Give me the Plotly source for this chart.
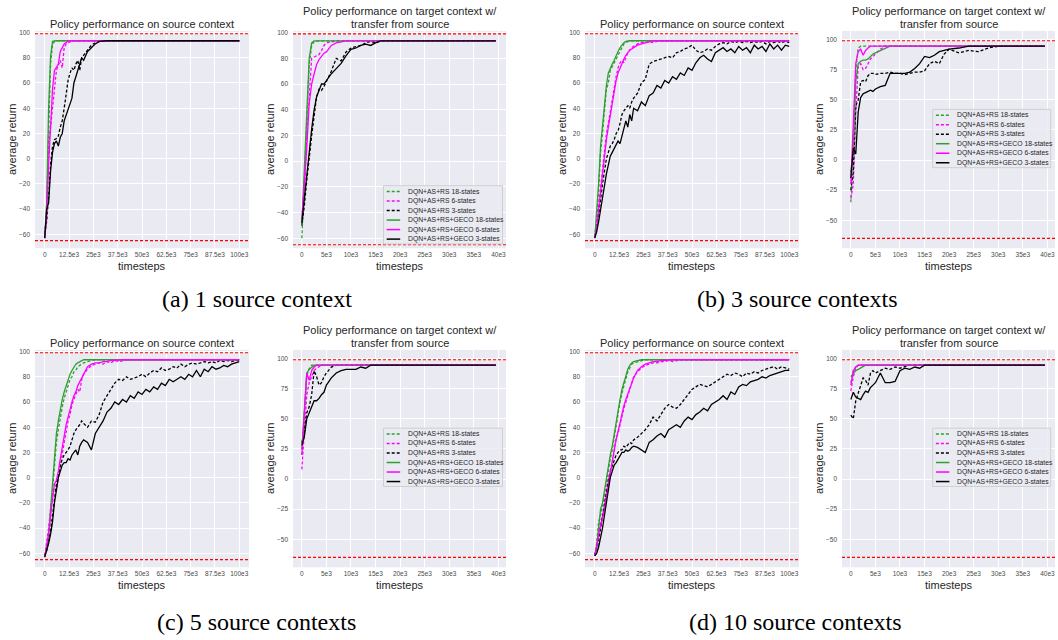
import plotly.graph_objects as go

W, H = 1058, 640
SANS = "Liberation Sans"
SERIF = "Liberation Serif"

# ---------------- data ----------------
SRC_X = [0, 1000, 2000, 3000, 4000, 5000, 6000, 7000, 8000, 9000,
         10000, 11000, 12000, 13000, 14000, 15000, 16000, 17000, 18000, 19000,
         20000, 22000, 24000, 26000, 28000, 30000, 32000, 34000, 36000, 38000,
         40000, 42000, 44000, 46000, 48000, 50000, 52000, 54000, 56000, 58000,
         60000, 62000, 64000, 66000, 68000, 70000, 72000, 74000, 76000, 78000,
         80000, 82000, 84000, 86000, 88000, 90000, 92000, 94000, 96000, 98000,
         100000]
TGT_X = [0, 500, 1000, 1500, 2000, 2500, 3000, 3500, 4000, 4500,
         5000, 6000, 7000, 8000, 9000, 10000, 11000, 12000, 13000, 14000,
         15000, 16000, 17000, 18000, 19000, 20000, 22000, 24000, 26000, 28000,
         30000, 32000, 34000, 36000, 38000, 39500]

SERIES_NAMES = ["DQN+AS+RS 18-states", "DQN+AS+RS 6-states", "DQN+AS+RS 3-states",
                "DQN+AS+RS+GECO 18-states", "DQN+AS+RS+GECO 6-states", "DQN+AS+RS+GECO 3-states"]

SRC_XTICKS = [0, 12500, 25000, 37500, 50000, 62500, 75000, 87500, 100000]
SRC_XTICKTEXT = ["0", "12.5e3", "25e3", "37.5e3", "50e3", "62.5e3", "75e3", "87.5e3", "100e3"]
TGT_XTICKS = [0, 5000, 10000, 15000, 20000, 25000, 30000, 35000, 40000]
TGT_XTICKTEXT = ["0", "5e3", "10e3", "15e3", "20e3", "25e3", "30e3", "35e3", "40e3"]
Y_TICKS_20 = [-60, -40, -20, 0, 20, 40, 60, 80, 100]
Y_TICKS_25 = [-50, -25, 0, 25, 50, 75, 100]

REF_HIGH = 99
REF_LOW = -65

SRC_TITLE = "Policy performance on source context"
TGT_TITLE = ["Policy performance on target context w/", "transfer from source"]
Y_LABEL = "average return"
X_LABEL = "timesteps"
CAPTIONS = ["(a) 1 source context", "(b) 3 source contexts",
            "(c) 5 source contexts", "(d) 10 source contexts"]

# ----- (a) 1 source context : source -----
A_SRC_RS18 = [-63, -40, 20, 75, 90, 93, 93.5, 93.5, 93.5, 93.5,
              93.5, 93.5, 93.5, 93.5, 93.5, 93.5, 93.5, 93.5, 93.5, 93.5,
              93.5, 93.5, 93.5, 93.5, 93.5, 93.5, 93.5, 93.5, 93.5, 93.5,
              93.5, 93.5, 93.5, 93.5, 93.5, 93.5, 93.5, 93.5, 93.5, 93.5,
              93.5, 93.5, 93.5, 93.5, 93.5, 93.5, 93.5, 93.5, 93.5, 93.5,
              93.5, 93.5, 93.5, 93.5, 93.5, 93.5, 93.5, 93.5, 93.5, 93.5,
              93.5]
A_SRC_RS6 = [-60, -40, 10, 25, 45, 57, 70, 74, 78, 72,
             88, 91, 92, 93, 93.5, 93.5, 93.5, 93.5, 93.5, 93.5,
             93.5, 93.5, 93.5, 93.5, 93.5, 93.5, 93.5, 93.5, 93.5, 93.5,
             93.5, 93.5, 93.5, 93.5, 93.5, 93.5, 93.5, 93.5, 93.5, 93.5,
             93.5, 93.5, 93.5, 93.5, 93.5, 93.5, 93.5, 93.5, 93.5, 93.5,
             93.5, 93.5, 93.5, 93.5, 93.5, 93.5, 93.5, 93.5, 93.5, 93.5,
             93.5]
A_SRC_RS3 = [-60, -50, -30, -5, 10, 15, 16, 18, 25, 30,
             40, 50, 62, 68, 72, 70, 75, 78, 70, 80,
             82, 86, 90, 92, 93, 93.5, 93.5, 93.5, 93.5, 93.5,
             93.5, 93.5, 93.5, 93.5, 93.5, 93.5, 93.5, 93.5, 93.5, 93.5,
             93.5, 93.5, 93.5, 93.5, 93.5, 93.5, 93.5, 93.5, 93.5, 93.5,
             93.5, 93.5, 93.5, 93.5, 93.5, 93.5, 93.5, 93.5, 93.5, 93.5,
             93.5]
A_SRC_G18 = [-63, -35, 40, 81, 93, 93.5, 93.5, 93.5, 93.5, 93.5,
             93.5, 93.5, 93.5, 93.5, 93.5, 93.5, 93.5, 93.5, 93.5, 93.5,
             93.5, 93.5, 93.5, 93.5, 93.5, 93.5, 93.5, 93.5, 93.5, 93.5,
             93.5, 93.5, 93.5, 93.5, 93.5, 93.5, 93.5, 93.5, 93.5, 93.5,
             93.5, 93.5, 93.5, 93.5, 93.5, 93.5, 93.5, 93.5, 93.5, 93.5,
             93.5, 93.5, 93.5, 93.5, 93.5, 93.5, 93.5, 93.5, 93.5, 93.5,
             93.5]
A_SRC_G6 = [-63, -45, -5, 30, 55, 70, 73, 75, 85, 88,
            91, 92, 93.5, 93.5, 93.5, 93.5, 93.5, 93.5, 93.5, 93.5,
            93.5, 93.5, 93.5, 93.5, 93.5, 93.5, 93.5, 93.5, 93.5, 93.5,
            93.5, 93.5, 93.5, 93.5, 93.5, 93.5, 93.5, 93.5, 93.5, 93.5,
            93.5, 93.5, 93.5, 93.5, 93.5, 93.5, 93.5, 93.5, 93.5, 93.5,
            93.5, 93.5, 93.5, 93.5, 93.5, 93.5, 93.5, 93.5, 93.5, 93.5,
            93.5]
A_SRC_G3 = [-63, -40, -35, -10, 5, 12, 14, 10, 17, 20,
            30, 35, 40, 43, 48, 60, 65, 70, 75, 80,
            78, 85, 88, 91, 93, 93.5, 93.5, 93.5, 93.5, 93.5,
            93.5, 93.5, 93.5, 93.5, 93.5, 93.5, 93.5, 93.5, 93.5, 93.5,
            93.5, 93.5, 93.5, 93.5, 93.5, 93.5, 93.5, 93.5, 93.5, 93.5,
            93.5, 93.5, 93.5, 93.5, 93.5, 93.5, 93.5, 93.5, 93.5, 93.5,
            93.5]

# ----- (a) target -----
A_TGT_RS18 = [-60, -20, 30, 75, 90, 93, 93.5, 93.5, 93.5, 93.5,
              93.5, 93.5, 93.5, 93.5, 93.5, 93.5, 93.5, 93.5, 93.5, 93.5,
              93.5, 93.5, 93.5, 93.5, 93.5, 93.5, 93.5, 93.5, 93.5, 93.5,
              93.5, 93.5, 93.5, 93.5, 93.5, 93.5]
A_TGT_RS6 = [-50, -25, 20, 55, 80, 81, 82, 83, 86, 90,
             92, 93, 93.5, 93.5, 93.5, 93.5, 93.5, 93.5, 93.5, 93.5,
             93.5, 93.5, 93.5, 93.5, 93.5, 93.5, 93.5, 93.5, 93.5, 93.5,
             93.5, 93.5, 93.5, 93.5, 93.5, 93.5]
A_TGT_RS3 = [-50, -35, -15, 5, 20, 35, 50, 56, 55, 58,
             62, 70, 80, 78, 85, 88, 89, 90, 92, 93,
             92, 93.5, 93.5, 93.5, 93.5, 93.5, 93.5, 93.5, 93.5, 93.5,
             93.5, 93.5, 93.5, 93.5, 93.5, 93.5]
A_TGT_G18 = [-50, -10, 40, 80, 92, 93.5, 93.5, 93.5, 93.5, 93.5,
             93.5, 93.5, 93.5, 93.5, 93.5, 93.5, 93.5, 93.5, 93.5, 93.5,
             93.5, 93.5, 93.5, 93.5, 93.5, 93.5, 93.5, 93.5, 93.5, 93.5,
             93.5, 93.5, 93.5, 93.5, 93.5, 93.5]
A_TGT_G6 = [-45, -20, 10, 45, 60, 68, 75, 79, 82, 84,
            85, 90, 92, 93, 93.5, 93.5, 93.5, 93.5, 93.5, 93.5,
            93.5, 93.5, 93.5, 93.5, 93.5, 93.5, 93.5, 93.5, 93.5, 93.5,
            93.5, 93.5, 93.5, 93.5, 93.5, 93.5]
A_TGT_G3 = [-48, -30, -10, 10, 25, 40, 50, 55, 60, 60,
            63, 68, 72, 76, 82, 87, 88, 90, 91, 90,
            92, 93.5, 93.5, 93.5, 93.5, 93.5, 93.5, 93.5, 93.5, 93.5,
            93.5, 93.5, 93.5, 93.5, 93.5, 93.5]

# ----- (b) 3 source contexts : source -----
B_SRC_RS18 = [-62, -48, -25, 5, 20, 40, 55, 60, 70, 73,
              76, 80, 83, 86, 89, 91, 92, 93, 93.5, 93.5,
              93.5, 93.5, 93.5, 93.5, 93.5, 93.5, 93.5, 93.5, 93.5, 93.5,
              93.5, 93.5, 93.5, 93.5, 93.5, 93.5, 93.5, 93.5, 93.5, 93.5,
              93.5, 93.5, 93.5, 93.5, 93.5, 93.5, 93.5, 93.5, 93.5, 93.5,
              93.5, 93.5, 93.5, 93.5, 93.5, 93.5, 93.5, 93.5, 93.5, 93.5,
              93.5]
B_SRC_RS6 = [-62, -52, -38, -22, -8, 8, 20, 28, 38, 48,
             58, 65, 72, 76, 78, 76, 80, 84, 86, 88,
             89, 91, 92, 92, 93, 92, 93, 93.5, 93.5, 93.5,
             93.5, 93.5, 93.5, 93.5, 93.5, 93.5, 93.5, 93.5, 93.5, 93.5,
             93.5, 93.5, 93.5, 93.5, 93.5, 93.5, 93.5, 93.5, 93.5, 93.5,
             93.5, 93.5, 93.5, 93.5, 93.5, 93.5, 93.5, 93.5, 93.5, 93.5,
             93.5]
B_SRC_RS3 = [-62, -55, -45, -30, -20, -10, 0, 5, 10, 12,
             15, 20, 22, 28, 35, 38, 40, 42, 40, 45,
             48, 52, 60, 63, 75, 77, 78, 79, 80, 81,
             80, 84, 85, 87, 88, 90, 86, 84, 85, 87,
             86, 89, 91, 92, 91, 93, 92, 93, 92, 93,
             92, 93, 92, 93, 91, 93, 92, 93, 92, 93,
             92]
B_SRC_G18 = [-63, -45, -20, 10, 25, 45, 58, 68, 72, 75,
             78, 82, 85, 88, 90, 92, 93, 93.5, 93.5, 93.5,
             93.5, 93.5, 93.5, 93.5, 93.5, 93.5, 93.5, 93.5, 93.5, 93.5,
             93.5, 93.5, 93.5, 93.5, 93.5, 93.5, 93.5, 93.5, 93.5, 93.5,
             93.5, 93.5, 93.5, 93.5, 93.5, 93.5, 93.5, 93.5, 93.5, 93.5,
             93.5, 93.5, 93.5, 93.5, 93.5, 93.5, 93.5, 93.5, 93.5, 93.5,
             93.5]
B_SRC_G6 = [-63, -55, -40, -25, -10, 5, 15, 25, 35, 45,
            55, 62, 68, 72, 76, 79, 82, 84, 86, 87,
            88, 90, 91, 92, 93, 93.5, 93.5, 93.5, 93.5, 93.5,
            93.5, 93.5, 93.5, 93.5, 93.5, 93.5, 93.5, 93.5, 93.5, 93.5,
            93.5, 93.5, 93.5, 93.5, 93.5, 93.5, 93.5, 93.5, 93.5, 93.5,
            93.5, 93.5, 93.5, 93.5, 93.5, 93.5, 93.5, 93.5, 93.5, 93.5,
            93.5]
B_SRC_G3 = [-63, -58, -50, -40, -30, -20, -12, -5, 2, 5,
            8, 10, 14, 12, 18, 22, 30, 25, 35, 30,
            40, 38, 45, 42, 50, 52, 58, 56, 62, 60,
            65, 63, 68, 66, 72, 70, 76, 80, 82, 79,
            77, 84, 86, 88, 85, 87, 84, 89, 86, 88,
            84, 90, 87, 89, 85, 91, 87, 90, 86, 90,
            89]

# ----- (b) target -----
B_TGT_RS18 = [-35, 20, 75, 93, 94.5, 94.5, 94.5, 94.5, 94.5, 94.5,
              94.5, 94.5, 94.5, 94.5, 94.5, 94.5, 94.5, 94.5, 94.5, 94.5,
              94.5, 94.5, 94.5, 94.5, 94.5, 94.5, 94.5, 94.5, 94.5, 94.5,
              94.5, 94.5, 94.5, 94.5, 94.5, 94.5]
B_TGT_RS6 = [-32, -20, 40, 78, 80, 75, 76, 80, 84, 86,
             88, 92, 94.5, 94.5, 94.5, 94.5, 94.5, 94.5, 94.5, 94.5,
             94.5, 94.5, 94.5, 94.5, 94.5, 94.5, 94.5, 94.5, 94.5, 94.5,
             94.5, 94.5, 94.5, 94.5, 94.5, 94.5]
B_TGT_RS3 = [-25, -10, 45, 50, 65, 66, 65, 70, 72, 72,
             71, 72, 72, 73, 72, 72, 71, 72, 73, 73,
             74, 80, 82, 80, 88, 92, 89, 91, 90, 93,
             94.5, 94.5, 94.5, 94.5, 94.5, 94.5]
B_TGT_G18 = [-10, 10, 65, 80, 82, 83, 83, 84, 86, 88,
             89, 91, 93, 94.5, 94.5, 94.5, 94.5, 94.5, 94.5, 94.5,
             94.5, 94.5, 94.5, 94.5, 94.5, 94.5, 94.5, 94.5, 94.5, 94.5,
             94.5, 94.5, 94.5, 94.5, 94.5, 94.5]
B_TGT_G6 = [-20, 30, 80, 90, 92, 87, 91, 93, 94.5, 94.5,
            94.5, 94.5, 94.5, 94.5, 94.5, 94.5, 94.5, 94.5, 94.5, 94.5,
            94.5, 94.5, 94.5, 94.5, 94.5, 94.5, 94.5, 94.5, 94.5, 94.5,
            94.5, 94.5, 94.5, 94.5, 94.5, 94.5]
B_TGT_G3 = [-15, 10, 5, 40, 52, 55, 56, 57, 58, 57,
            59, 61, 62, 72, 72, 72, 72, 73, 76, 80,
            86, 85, 87, 90, 91, 92, 93, 94.5, 94.5, 94.5,
            94.5, 94.5, 94.5, 94.5, 94.5, 94.5]

# ----- (c) 5 source contexts : source -----
C_SRC_RS18 = [-62, -56, -48, -30, -10, 10, 28, 38, 48, 56,
              63, 68, 72, 78, 80, 84, 85, 88, 89, 90,
              91, 92, 93, 93.5, 93.5, 93.5, 93.5, 93.5, 93.5, 93.5,
              93.5, 93.5, 93.5, 93.5, 93.5, 93.5, 93.5, 93.5, 93.5, 93.5,
              93.5, 93.5, 93.5, 93.5, 93.5, 93.5, 93.5, 93.5, 93.5, 93.5,
              93.5, 93.5, 93.5, 93.5, 93.5, 93.5, 93.5, 93.5, 93.5, 93.5,
              93.5]
C_SRC_RS6 = [-62, -52, -40, -25, -12, -8, -10, 0, 10, 20,
             28, 36, 45, 50, 58, 62, 66, 70, 68, 78,
             82, 86, 89, 90, 91, 90, 92, 91, 93, 92,
             93, 93.5, 93.5, 93.5, 93.5, 93.5, 93.5, 93.5, 93.5, 93.5,
             93.5, 93.5, 93.5, 93.5, 93.5, 93.5, 93.5, 93.5, 93.5, 93.5,
             93.5, 93.5, 93.5, 93.5, 93.5, 93.5, 93.5, 93.5, 93.5, 93.5,
             93.5]
C_SRC_RS3 = [-62, -58, -50, -42, -30, -15, -5, 3, 10, 15,
             18, 20, 22, 25, 30, 35, 38, 40, 42, 45,
             43, 40, 45, 44, 50, 60, 65, 70, 75, 78,
             77, 80, 78, 79, 80, 82, 80, 83, 85, 84,
             87, 85, 86, 88, 87, 90, 88, 90, 91, 90,
             91, 92, 91, 92, 91, 93, 92, 93, 92, 93,
             93]
C_SRC_G18 = [-63, -55, -45, -25, -5, 15, 35, 45, 55, 62,
             68, 73, 78, 82, 85, 88, 90, 91, 92, 93,
             93.5, 93.5, 93.5, 93.5, 93.5, 93.5, 93.5, 93.5, 93.5, 93.5,
             93.5, 93.5, 93.5, 93.5, 93.5, 93.5, 93.5, 93.5, 93.5, 93.5,
             93.5, 93.5, 93.5, 93.5, 93.5, 93.5, 93.5, 93.5, 93.5, 93.5,
             93.5, 93.5, 93.5, 93.5, 93.5, 93.5, 93.5, 93.5, 93.5, 93.5,
             93.5]
C_SRC_G6 = [-63, -55, -45, -30, -15, -5, -2, 5, 15, 25,
            35, 42, 48, 55, 60, 65, 68, 73, 76, 80,
            83, 88, 90, 91, 91, 92, 92, 93, 93, 93.5,
            93.5, 93.5, 93.5, 93.5, 93.5, 93.5, 93.5, 93.5, 93.5, 93.5,
            93.5, 93.5, 93.5, 93.5, 93.5, 93.5, 93.5, 93.5, 93.5, 93.5,
            93.5, 93.5, 93.5, 93.5, 93.5, 93.5, 93.5, 93.5, 93.5, 93.5,
            93.5]
C_SRC_G3 = [-63, -58, -52, -45, -35, -20, -8, 0, 5, 10,
            12, 12, 15, 14, 18, 20, 22, 18, 25, 28,
            30, 28, 22, 35, 40, 45, 52, 55, 60, 58,
            62, 60, 65, 63, 68, 66, 70, 68, 72, 70,
            75, 73, 78, 76, 78, 80, 78, 82, 80, 85,
            80, 86, 84, 88, 86, 87, 89, 88, 90, 91,
            92]

# ----- (c) target -----
C_TGT_RS18 = [20, 50, 85, 92, 94.5, 94.5, 94.5, 94.5, 94.5, 94.5,
              94.5, 94.5, 94.5, 94.5, 94.5, 94.5, 94.5, 94.5, 94.5, 94.5,
              94.5, 94.5, 94.5, 94.5, 94.5, 94.5, 94.5, 94.5, 94.5, 94.5,
              94.5, 94.5, 94.5, 94.5, 94.5, 94.5]
C_TGT_RS6 = [8, 40, 70, 80, 85, 90, 92, 93, 94.5, 94.5,
             94.5, 94.5, 94.5, 94.5, 94.5, 94.5, 94.5, 94.5, 94.5, 94.5,
             94.5, 94.5, 94.5, 94.5, 94.5, 94.5, 94.5, 94.5, 94.5, 94.5,
             94.5, 94.5, 94.5, 94.5, 94.5, 94.5]
C_TGT_RS3 = [30, 40, 55, 60, 70, 90, 85, 78, 80, 85,
             88, 93, 94.5, 94.5, 94.5, 94.5, 94.5, 94.5, 94.5, 94.5,
             94.5, 94.5, 94.5, 94.5, 94.5, 94.5, 94.5, 94.5, 94.5, 94.5,
             94.5, 94.5, 94.5, 94.5, 94.5, 94.5]
C_TGT_G18 = [25, 60, 88, 91, 93, 94.5, 94.5, 94.5, 94.5, 94.5,
             94.5, 94.5, 94.5, 94.5, 94.5, 94.5, 94.5, 94.5, 94.5, 94.5,
             94.5, 94.5, 94.5, 94.5, 94.5, 94.5, 94.5, 94.5, 94.5, 94.5,
             94.5, 94.5, 94.5, 94.5, 94.5, 94.5]
C_TGT_G6 = [20, 55, 88, 82, 90, 93, 94.5, 94.5, 94.5, 94.5,
            94.5, 94.5, 94.5, 94.5, 94.5, 94.5, 94.5, 94.5, 94.5, 94.5,
            94.5, 94.5, 94.5, 94.5, 94.5, 94.5, 94.5, 94.5, 94.5, 94.5,
            94.5, 94.5, 94.5, 94.5, 94.5, 94.5]
C_TGT_G3 = [28, 35, 50, 55, 60, 65, 65, 67, 70, 72,
            78, 84, 88, 90, 91, 91, 91, 93, 92, 94.5,
            94.5, 94.5, 94.5, 94.5, 94.5, 94.5, 94.5, 94.5, 94.5, 94.5,
            94.5, 94.5, 94.5, 94.5, 94.5, 94.5]

# ----- (d) 10 source contexts : source -----
D_SRC_RS18 = [-62, -52, -35, -30, -22, -12, -2, 8, 15, 22,
              32, 42, 52, 60, 67, 73, 79, 84, 87, 90,
              91, 92, 93, 93.5, 93.5, 93.5, 93.5, 93.5, 93.5, 93.5,
              93.5, 93.5, 93.5, 93.5, 93.5, 93.5, 93.5, 93.5, 93.5, 93.5,
              93.5, 93.5, 93.5, 93.5, 93.5, 93.5, 93.5, 93.5, 93.5, 93.5,
              93.5, 93.5, 93.5, 93.5, 93.5, 93.5, 93.5, 93.5, 93.5, 93.5,
              93.5]
D_SRC_RS6 = [-61, -52, -42, -35, -30, -22, -12, -2, 6, 12,
             20, 32, 35, 42, 50, 55, 60, 65, 72, 76,
             80, 84, 87, 89, 90, 91, 91, 92, 92, 93,
             92, 93, 93.5, 93.5, 93.5, 93.5, 93.5, 93.5, 93.5, 93.5,
             93.5, 93.5, 93.5, 93.5, 93.5, 93.5, 93.5, 93.5, 93.5, 93.5,
             93.5, 93.5, 93.5, 93.5, 93.5, 93.5, 93.5, 93.5, 93.5, 93.5,
             93.5]
D_SRC_RS3 = [-62, -58, -50, -40, -30, -20, -10, -2, 5, 10,
             15, 18, 20, 22, 22, 25, 24, 26, 28, 27,
             30, 32, 35, 38, 42, 48, 45, 50, 55, 58,
             56, 55, 58, 62, 66, 70, 72, 74, 73, 72,
             74, 76, 78, 80, 82, 81, 83, 82, 80, 83,
             82, 84, 83, 85, 86, 87, 88, 86, 88, 87,
             86]
D_SRC_G18 = [-62, -55, -40, -25, -20, -10, 0, 10, 18, 25,
             35, 45, 55, 62, 70, 76, 82, 86, 89, 91,
             92, 93, 93.5, 93.5, 93.5, 93.5, 93.5, 93.5, 93.5, 93.5,
             93.5, 93.5, 93.5, 93.5, 93.5, 93.5, 93.5, 93.5, 93.5, 93.5,
             93.5, 93.5, 93.5, 93.5, 93.5, 93.5, 93.5, 93.5, 93.5, 93.5,
             93.5, 93.5, 93.5, 93.5, 93.5, 93.5, 93.5, 93.5, 93.5, 93.5,
             93.5]
D_SRC_G6 = [-62, -55, -45, -38, -32, -25, -15, -5, 5, 15,
            22, 30, 37, 45, 52, 57, 62, 66, 70, 75,
            79, 85, 88, 90, 91, 92, 92, 93, 93, 93.5,
            93.5, 93.5, 93.5, 93.5, 93.5, 93.5, 93.5, 93.5, 93.5, 93.5,
            93.5, 93.5, 93.5, 93.5, 93.5, 93.5, 93.5, 93.5, 93.5, 93.5,
            93.5, 93.5, 93.5, 93.5, 93.5, 93.5, 93.5, 93.5, 93.5, 93.5,
            93.5]
D_SRC_G3 = [-62, -60, -55, -48, -40, -30, -20, -10, 0, 5,
            10, 12, 15, 17, 20, 20, 22, 21, 22, 24,
            25, 24, 22, 20, 28, 30, 33, 35, 32, 38,
            40, 42, 40, 45, 48, 46, 50, 52, 55, 53,
            58, 60, 62, 65, 62, 68, 66, 72, 74, 73,
            76, 77, 78, 80, 79, 81, 82, 83, 84, 85,
            85]

# ----- (d) target -----
D_TGT_RS18 = [80, 90, 93, 94.5, 94.5, 94.5, 94.5, 94.5, 94.5, 94.5,
              94.5, 94.5, 94.5, 94.5, 94.5, 94.5, 94.5, 94.5, 94.5, 94.5,
              94.5, 94.5, 94.5, 94.5, 94.5, 94.5, 94.5, 94.5, 94.5, 94.5,
              94.5, 94.5, 94.5, 94.5, 94.5, 94.5]
D_TGT_RS6 = [73, 85, 92, 94.5, 94.5, 94.5, 94.5, 94.5, 94.5, 94.5,
             94.5, 94.5, 94.5, 94.5, 94.5, 94.5, 94.5, 94.5, 94.5, 94.5,
             94.5, 94.5, 94.5, 94.5, 94.5, 94.5, 94.5, 94.5, 94.5, 94.5,
             94.5, 94.5, 94.5, 94.5, 94.5, 94.5]
D_TGT_RS3 = [53, 50, 65, 72, 78, 84, 82, 78, 88, 90,
             88, 90, 92, 91, 93, 92, 93, 94.5, 94.5, 94.5,
             94.5, 94.5, 94.5, 94.5, 94.5, 94.5, 94.5, 94.5, 94.5, 94.5,
             94.5, 94.5, 94.5, 94.5, 94.5, 94.5]
D_TGT_G18 = [85, 88, 90, 91, 92, 93, 94.5, 94.5, 94.5, 94.5,
             94.5, 94.5, 94.5, 94.5, 94.5, 94.5, 94.5, 94.5, 94.5, 94.5,
             94.5, 94.5, 94.5, 94.5, 94.5, 94.5, 94.5, 94.5, 94.5, 94.5,
             94.5, 94.5, 94.5, 94.5, 94.5, 94.5]
D_TGT_G6 = [78, 90, 93, 94.5, 94.5, 94.5, 94.5, 94.5, 94.5, 94.5,
            94.5, 94.5, 94.5, 94.5, 94.5, 94.5, 94.5, 94.5, 94.5, 94.5,
            94.5, 94.5, 94.5, 94.5, 94.5, 94.5, 94.5, 94.5, 94.5, 94.5,
            94.5, 94.5, 94.5, 94.5, 94.5, 94.5]
D_TGT_G3 = [66, 72, 68, 67, 66, 70, 73, 72, 76, 78,
            80, 88, 80, 80, 81, 90, 92, 91, 93, 92,
            94.5, 94.5, 94.5, 94.5, 94.5, 94.5, 94.5, 94.5, 94.5, 94.5,
            94.5, 94.5, 94.5, 94.5, 94.5, 94.5]

A_SRC = [A_SRC_RS18, A_SRC_RS6, A_SRC_RS3, A_SRC_G18, A_SRC_G6, A_SRC_G3]
A_TGT = [A_TGT_RS18, A_TGT_RS6, A_TGT_RS3, A_TGT_G18, A_TGT_G6, A_TGT_G3]
B_SRC = [B_SRC_RS18, B_SRC_RS6, B_SRC_RS3, B_SRC_G18, B_SRC_G6, B_SRC_G3]
B_TGT = [B_TGT_RS18, B_TGT_RS6, B_TGT_RS3, B_TGT_G18, B_TGT_G6, B_TGT_G3]
C_SRC = [C_SRC_RS18, C_SRC_RS6, C_SRC_RS3, C_SRC_G18, C_SRC_G6, C_SRC_G3]
C_TGT = [C_TGT_RS18, C_TGT_RS6, C_TGT_RS3, C_TGT_G18, C_TGT_G6, C_TGT_G3]
D_SRC = [D_SRC_RS18, D_SRC_RS6, D_SRC_RS3, D_SRC_G18, D_SRC_G6, D_SRC_G3]
D_TGT = [D_TGT_RS18, D_TGT_RS6, D_TGT_RS3, D_TGT_G18, D_TGT_G6, D_TGT_G3]

# sanity check on lengths
_bad = []
for nm, grp, xs in [("A_SRC", A_SRC, SRC_X), ("A_TGT", A_TGT, TGT_X), ("B_SRC", B_SRC, SRC_X),
                    ("B_TGT", B_TGT, TGT_X), ("C_SRC", C_SRC, SRC_X), ("C_TGT", C_TGT, TGT_X),
                    ("D_SRC", D_SRC, SRC_X), ("D_TGT", D_TGT, TGT_X)]:
    for i, s in enumerate(grp):
        if len(s) != len(xs):
            _bad.append((nm, i, len(s), len(xs)))
if _bad:
    raise ValueError(str(_bad))

# ---------------- styles / layout ----------------
GREEN = "#2f9e2f"
MAGENTA = "#ff00ff"
BLACK = "#000000"
STYLES = [(GREEN, "3px,2px"), (MAGENTA, "3px,2px"), (BLACK, "3px,2px"),
          (GREEN, "solid"), (MAGENTA, "solid"), (BLACK, "solid")]
TEXT_COLOR = "#262626"
TICK_COLOR = "#4a4a4a"

TOP, BOT = 29, 247
ROW2 = 320
PANELS = [
    dict(series=A_SRC, kind="src", box=(35, TOP, 249, BOT), yrange=(-71, 101.3), yticks=Y_TICKS_20),
    dict(series=A_TGT, kind="tgt", box=(293, TOP, 506, BOT), yrange=(-67.7, 101.3), yticks=Y_TICKS_20,
         legend=(383.5, 184.3, 502.5, 242.7)),
    dict(series=B_SRC, kind="src", box=(585, TOP, 799, BOT), yrange=(-71, 101.3), yticks=Y_TICKS_20),
    dict(series=B_TGT, kind="tgt", box=(842, TOP, 1055, BOT), yrange=(-73.2, 107.2), yticks=Y_TICKS_25,
         legend=(932.7, 107.7, 1050.7, 166.2)),
    dict(series=C_SRC, kind="src", box=(35, TOP + ROW2, 249, BOT + ROW2), yrange=(-71, 101.3), yticks=Y_TICKS_20),
    dict(series=C_TGT, kind="tgt", box=(293, TOP + ROW2, 506, BOT + ROW2), yrange=(-73.2, 107.2), yticks=Y_TICKS_25,
         legend=(383.5, 427.5, 502.5, 486.0)),
    dict(series=D_SRC, kind="src", box=(585, TOP + ROW2, 799, BOT + ROW2), yrange=(-71, 101.3), yticks=Y_TICKS_20),
    dict(series=D_TGT, kind="tgt", box=(842, TOP + ROW2, 1055, BOT + ROW2), yrange=(-73.2, 107.2), yticks=Y_TICKS_25,
         legend=(932.7, 427.5, 1050.7, 486.0)),
]
CAPTION_POS = [(257, 298), (797, 298), (256, 622), (795, 622)]


def px_x(v):
    return v / W


def px_y(v):
    return 1 - v / H


fig = go.Figure()
annotations = []
shapes = []
layout_axes = {}

for n, p in enumerate(PANELS, start=1):
    sfx = "" if n == 1 else str(n)
    xs = SRC_X if p["kind"] == "src" else TGT_X
    l, t, r, b = p["box"]
    for (color, dash), name, ys in zip(STYLES, SERIES_NAMES, p["series"]):
        fig.add_trace(go.Scatter(
            x=xs, y=ys, mode="lines", name=name, showlegend=False,
            line=dict(color=color, width=1.3, dash=dash),
            xaxis="x" + sfx, yaxis="y" + sfx, hoverinfo="skip"))
    if p["kind"] == "src":
        xr, tv, tt = (-5000, 105000), SRC_XTICKS, SRC_XTICKTEXT
    else:
        xr, tv, tt = (-1800, 41550), TGT_XTICKS, TGT_XTICKTEXT
    layout_axes["xaxis" + sfx] = dict(
        domain=[px_x(l), px_x(r)], range=list(xr), anchor="y" + sfx,
        tickvals=tv, ticktext=tt, showgrid=True, gridcolor="white", gridwidth=1,
        zeroline=False, showline=False, ticks="", ticklabelstandoff=1,
        tickfont=dict(family=SANS, size=6.5, color=TICK_COLOR))
    layout_axes["yaxis" + sfx] = dict(
        domain=[px_y(b), px_y(t)], range=list(p["yrange"]), anchor="x" + sfx,
        tickvals=p["yticks"], showgrid=True, gridcolor="white", gridwidth=1,
        zeroline=False, showline=False, ticks="", ticklabelstandoff=4,
        tickfont=dict(family=SANS, size=6.5, color=TICK_COLOR))
    # reference lines
    for yref_val in (REF_HIGH, REF_LOW):
        shapes.append(dict(type="line", xref="x" + sfx + " domain", yref="y" + sfx,
                           x0=0, x1=1, y0=yref_val, y1=yref_val, layer="above",
                           line=dict(color="red", width=1.1, dash="3px,2px")))
    cx = (l + r) / 2
    # titles
    if p["kind"] == "src":
        annotations.append(dict(text=SRC_TITLE, x=px_x(cx), y=px_y(t - 7.3), xref="paper", yref="paper",
                                xanchor="center", yanchor="middle", showarrow=False,
                                font=dict(family=SANS, size=11, color=TEXT_COLOR)))
    else:
        for line_txt, yy in zip(TGT_TITLE, (t - 19.7, t - 7.3)):
            annotations.append(dict(text=line_txt, x=px_x(cx), y=px_y(yy), xref="paper", yref="paper",
                                    xanchor="center", yanchor="middle", showarrow=False,
                                    font=dict(family=SANS, size=11, color=TEXT_COLOR)))
    # axis labels
    annotations.append(dict(text=Y_LABEL, x=px_x(l - 23.5), y=px_y((t + b) / 2), xref="paper", yref="paper",
                            xanchor="center", yanchor="middle", textangle=-90, showarrow=False,
                            font=dict(family=SANS, size=11, color=TEXT_COLOR)))
    annotations.append(dict(text=X_LABEL, x=px_x(cx), y=px_y(b + 18), xref="paper", yref="paper",
                            xanchor="center", yanchor="middle", showarrow=False,
                            font=dict(family=SANS, size=11, color=TEXT_COLOR)))
    # legend (drawn by hand to match the compact matplotlib legend)
    if "legend" in p:
        bl, bt, br, bb = p["legend"]
        shapes.append(dict(type="rect", xref="paper", yref="paper", layer="above",
                           x0=px_x(bl), x1=px_x(br), y0=px_y(bb), y1=px_y(bt),
                           fillcolor="rgba(234,234,242,0.85)", line=dict(color="#cfcfcf", width=1)))
        for i, ((color, dash), name) in enumerate(zip(STYLES, SERIES_NAMES)):
            ry = bt + 5.8 + i * 9.55
            shapes.append(dict(type="line", xref="paper", yref="paper", layer="above",
                               x0=px_x(bl + 3.2), x1=px_x(bl + 16.7), y0=px_y(ry), y1=px_y(ry),
                               line=dict(color=color, width=1.5, dash=dash)))
            annotations.append(dict(text=name, x=px_x(bl + 22.3), y=px_y(ry), xref="paper", yref="paper",
                                    xanchor="left", yanchor="middle", showarrow=False,
                                    font=dict(family=SANS, size=6.8, color=TEXT_COLOR)))

for cap, (cx, cy) in zip(CAPTIONS, CAPTION_POS):
    annotations.append(dict(text=cap, x=px_x(cx), y=px_y(cy), xref="paper", yref="paper",
                            xanchor="center", yanchor="middle", showarrow=False,
                            font=dict(family=SERIF, size=24, color="#000000")))

fig.update_layout(
    width=W, height=H, margin=dict(l=0, r=0, t=0, b=0),
    paper_bgcolor="white", plot_bgcolor="#EAEAF2",
    showlegend=False, annotations=annotations, shapes=shapes,
    **layout_axes)

fig.write_html("out.html", config={"displayModeBar": False},
               post_script="document.body.style.margin='0';document.body.style.overflow='hidden';")
